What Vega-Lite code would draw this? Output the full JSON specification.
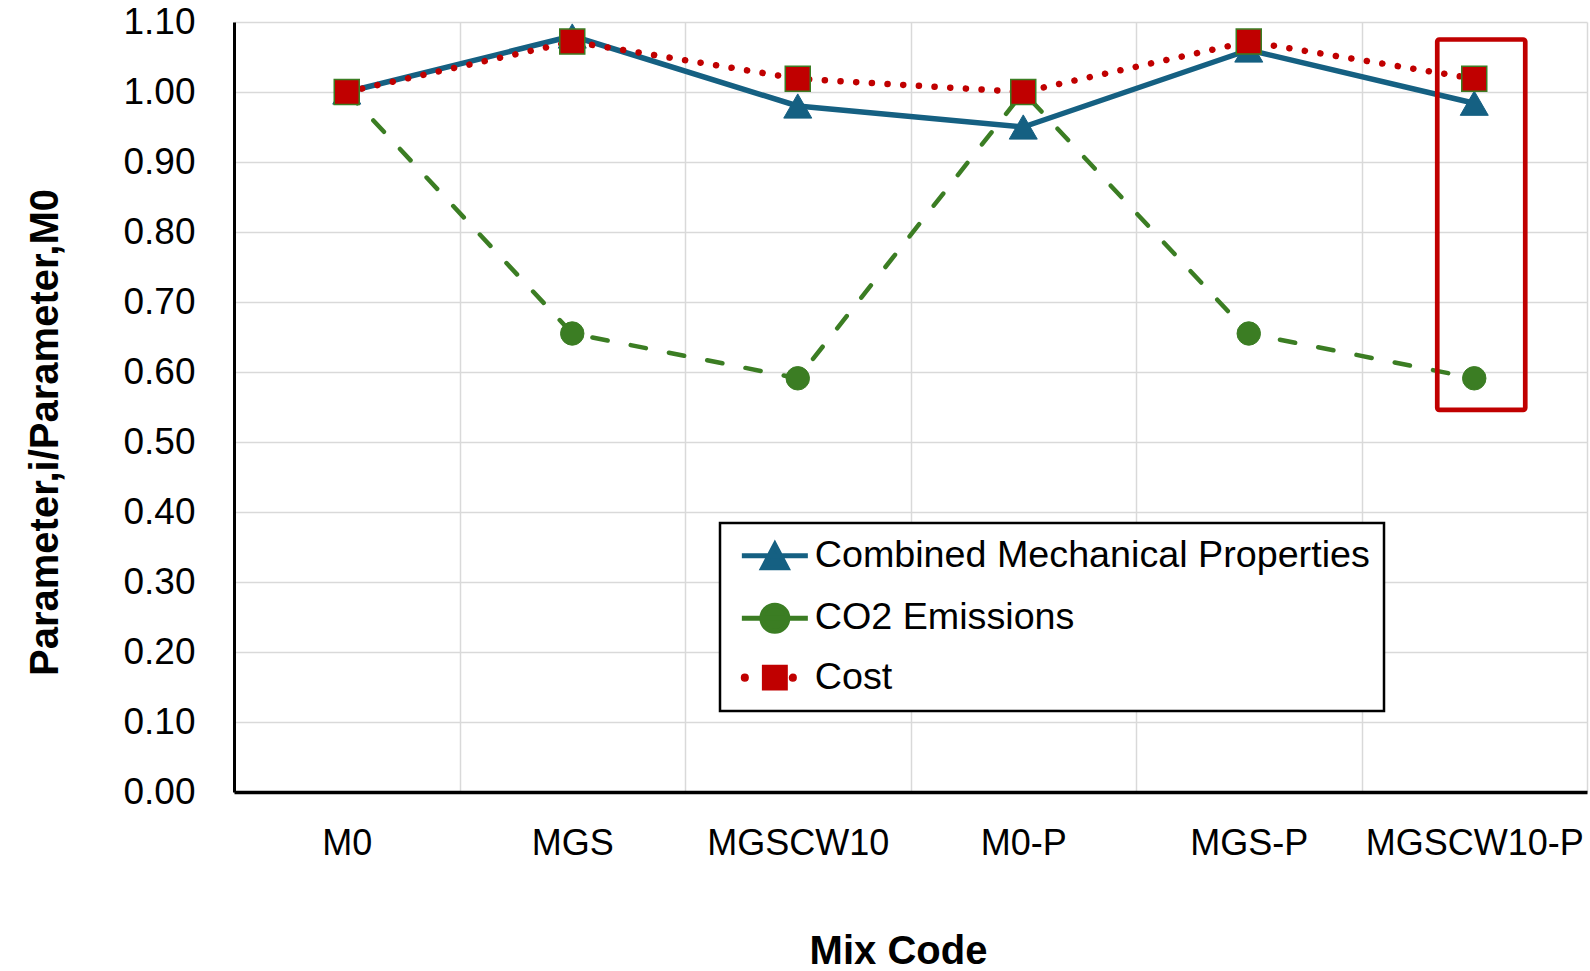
{
  "$schema": "https://vega.github.io/schema/vega-lite/v6.json",
  "width": 1353,
  "height": 770,
  "autosize": {"type": "none"},
  "padding": {"left": 234, "top": 22, "right": 3, "bottom": 179},
  "background": "white",
  "config": {
    "font": "Liberation Sans",
    "view": {"stroke": null},
    "axis": {"labelColor": "black", "titleColor": "black", "labelFont": "Liberation Sans", "titleFont": "Liberation Sans"}
  },
  "datasets": {
    "main": [
      {"mix": "M0", "series": "Combined Mechanical Properties", "value": 1.0},
      {"mix": "MGS", "series": "Combined Mechanical Properties", "value": 1.08},
      {"mix": "MGSCW10", "series": "Combined Mechanical Properties", "value": 0.98},
      {"mix": "M0-P", "series": "Combined Mechanical Properties", "value": 0.95},
      {"mix": "MGS-P", "series": "Combined Mechanical Properties", "value": 1.06},
      {"mix": "MGSCW10-P", "series": "Combined Mechanical Properties", "value": 0.984},
      {"mix": "M0", "series": "CO2 Emissions", "value": 1.0},
      {"mix": "MGS", "series": "CO2 Emissions", "value": 0.655},
      {"mix": "MGSCW10", "series": "CO2 Emissions", "value": 0.591},
      {"mix": "M0-P", "series": "CO2 Emissions", "value": 1.0},
      {"mix": "MGS-P", "series": "CO2 Emissions", "value": 0.655},
      {"mix": "MGSCW10-P", "series": "CO2 Emissions", "value": 0.591},
      {"mix": "M0", "series": "Cost", "value": 1.0},
      {"mix": "MGS", "series": "Cost", "value": 1.072},
      {"mix": "MGSCW10", "series": "Cost", "value": 1.019},
      {"mix": "M0-P", "series": "Cost", "value": 1.0},
      {"mix": "MGS-P", "series": "Cost", "value": 1.072},
      {"mix": "MGSCW10-P", "series": "Cost", "value": 1.019}
    ],
    "highlight": [
      {"mix": "MGSCW10-P", "top": 1.075, "bottom": 0.546}
    ]
  },
  "layer": [
    {
      "data": {"name": "main"},
      "transform": [{"filter": {"field": "series", "equal": "Combined Mechanical Properties"}}],
      "mark": {"type": "line", "strokeCap": "round", "strokeJoin": "round", "strokeWidth": 5.5},
      "encoding": {
        "x": {
          "field": "mix", "type": "nominal",
          "scale": {"type": "band", "domain": ["M0", "MGS", "MGSCW10", "M0-P", "MGS-P", "MGSCW10-P"], "paddingInner": 0, "paddingOuter": 0},
          "axis": {
            "title": "Mix Code", "titleFontSize": 40, "titleFontWeight": "bold", "titlePadding": 70, "titleX": 664,
            "labelFontSize": 36, "labelPadding": 34, "labelAngle": 0, "labelLimit": 400,
            "ticks": false, "tickSize": 0, "tickBand": "extent",
            "domainColor": "black", "domainWidth": 3.5,
            "grid": true, "gridColor": "#D9D9D9", "gridWidth": 1.5
          }
        },
        "y": {
          "field": "value", "type": "quantitative",
          "scale": {"domain": [0, 1.1], "nice": false, "zero": true},
          "axis": {
            "title": "Parameter,i/Parameter,M0", "titleFontSize": 40, "titleFontWeight": "bold", "titlePadding": 57, "titleY": 410,
            "values": [0, 0.1, 0.2, 0.3, 0.4, 0.5, 0.6, 0.7, 0.8, 0.9, 1.0, 1.1],
            "format": ".2f", "labelFontSize": 37, "labelPadding": 39,
            "ticks": false, "tickSize": 0,
            "domainColor": "black", "domainWidth": 3,
            "grid": true, "gridColor": "#D9D9D9", "gridWidth": 1.5
          }
        },
        "color": {
          "field": "series", "type": "nominal",
          "scale": {"domain": ["Combined Mechanical Properties", "CO2 Emissions", "Cost"], "range": ["#156082", "#3B7D23", "#C00000"]},
          "legend": {
            "orient": "none", "legendX": 486, "legendY": 501, "title": null, "direction": "vertical",
            "fillColor": "white", "strokeColor": "black", "padding": 14, "rowPadding": 16.4,
            "symbolSize": 4356, "symbolStrokeWidth": 5, "symbolOffset": 22,
            "labelFontSize": 37.7, "labelFont": "Liberation Sans", "labelColor": "black",
            "labelOffset": 21, "labelLimit": 0,
            "encoding": {
              "legend": {"strokeWidth": {"value": 2.5}},
              "symbols": {
                "shape": {"value": {"expr": "datum.value === 'Cost' ? 'M-1.01,0A0.1,0.1 0 1,0 -0.81,0A0.1,0.1 0 1,0 -1.01,0ZM0.445,0A0.1,0.1 0 1,0 0.645,0A0.1,0.1 0 1,0 0.445,0ZM-0.37,-0.37H0.37V0.37H-0.37Z' : datum.value === 'CO2 Emissions' ? 'M-1,0H1M-0.394,0A0.394,0.394 0 1,0 0.394,0A0.394,0.394 0 1,0 -0.394,0Z' : 'M-1,0H1M0,-0.333L0.364,0.364H-0.364Z'"}},
                "fill": {"value": {"expr": "datum.value === 'Cost' ? '#C00000' : datum.value === 'CO2 Emissions' ? '#3B7D23' : '#156082'"}},
                "strokeWidth": {"value": {"expr": "datum.value === 'Cost' ? 1.5 : 5"}},
                "opacity": {"value": 1}
              }
            }
          }
        }
      }
    },
    {
      "data": {"name": "main"},
      "transform": [{"filter": {"field": "series", "equal": "CO2 Emissions"}}],
      "mark": {"type": "line", "strokeCap": "round", "strokeJoin": "round", "strokeWidth": 4.5, "strokeDash": [15.5, 23.5]},
      "encoding": {
        "x": {"field": "mix", "type": "nominal"},
        "y": {"field": "value", "type": "quantitative"},
        "color": {
          "field": "series", "type": "nominal",
          "scale": {"domain": ["Combined Mechanical Properties", "CO2 Emissions", "Cost"], "range": ["#156082", "#3B7D23", "#C00000"]},
          "legend": null
        }
      }
    },
    {
      "data": {"name": "main"},
      "transform": [{"filter": {"field": "series", "equal": "Cost"}}],
      "mark": {"type": "line", "strokeCap": "round", "strokeJoin": "round", "strokeWidth": 6.5, "strokeDash": [0.1, 15.6]},
      "encoding": {
        "x": {"field": "mix", "type": "nominal"},
        "y": {"field": "value", "type": "quantitative"},
        "color": {
          "field": "series", "type": "nominal",
          "scale": {"domain": ["Combined Mechanical Properties", "CO2 Emissions", "Cost"], "range": ["#156082", "#3B7D23", "#C00000"]},
          "legend": null
        }
      }
    },
    {
      "data": {"name": "main"},
      "transform": [{"filter": {"field": "series", "equal": "Combined Mechanical Properties"}}],
      "mark": {"type": "point", "shape": "triangle-up", "filled": true, "fill": "#156082", "stroke": "#156082", "strokeWidth": 1, "size": 784, "opacity": 1},
      "encoding": {
        "x": {"field": "mix", "type": "nominal"},
        "y": {"field": "value", "type": "quantitative"}
      }
    },
    {
      "data": {"name": "main"},
      "transform": [{"filter": {"field": "series", "equal": "CO2 Emissions"}}],
      "mark": {"type": "point", "shape": "circle", "filled": true, "fill": "#3B7D23", "stroke": "#3B7D23", "strokeWidth": 1, "size": 550, "opacity": 1},
      "encoding": {
        "x": {"field": "mix", "type": "nominal"},
        "y": {"field": "value", "type": "quantitative"}
      }
    },
    {
      "data": {"name": "main"},
      "transform": [{"filter": {"field": "series", "equal": "Cost"}}],
      "mark": {"type": "point", "shape": "square", "filled": true, "fill": "#C00000", "stroke": "#3B7D23", "strokeWidth": 1.5, "size": 625, "opacity": 1},
      "encoding": {
        "x": {"field": "mix", "type": "nominal"},
        "y": {"field": "value", "type": "quantitative"}
      }
    },
    {
      "data": {"name": "highlight"},
      "mark": {"type": "bar", "width": 88, "xOffset": 7, "fill": "transparent", "stroke": "#C00000", "strokeWidth": 4.7, "cornerRadius": 2},
      "encoding": {
        "x": {"field": "mix", "type": "nominal"},
        "y": {"field": "top", "type": "quantitative"},
        "y2": {"field": "bottom"}
      }
    }
  ]
}
